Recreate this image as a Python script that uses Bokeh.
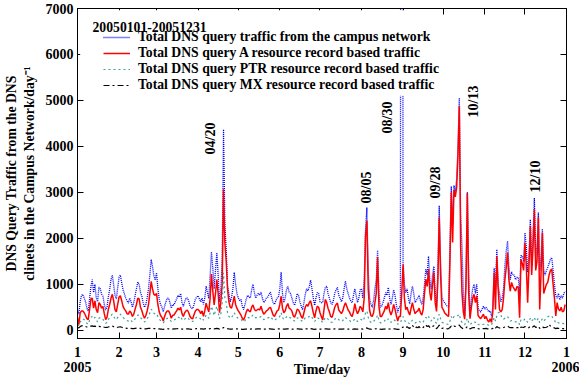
import numpy as np
from bokeh.plotting import figure
from bokeh.models import (Range1d, LinearAxis, FixedTicker, Legend, LegendItem,
                          Label, BoxAnnotation)
from bokeh.embed import file_html
from bokeh.resources import INLINE

# ---------------- data (daily values, 2005-01-01 .. 2005-12-31) ----------------
total_traffic = (
    [450,350,620,760,780,700,620,480,420,680,950,1100,820,1000,700,620,940,900,780,740,560,440,500,720,880,1100,1200,980,760,680,920] +
    [1150,1200,1030,880,790,700,640,590,700,620,500,600,760,900,1050,1000,820,740,600,500,560,700,900,1200,1540,1380,1180,1100] +
    [1250,900,670,560,500,400,520,620,700,700,600,480,560,550,620,680,760,720,800,600,520,620,700,700,640,520,480,470,560,680,720] +
    [750,680,620,700,560,700,960,820,690,1200,1700,1350,900,1300,1690,1200,620,900,1540,4370,2300,1760,960,800,620,720,900,1260,1000,800] +
    [700,650,670,520,450,560,680,760,720,700,880,1000,820,700,760,800,760,830,700,600,640,700,720,780,830,700,600,560,640,700,720] +
    [900,1260,800,600,700,880,960,820,800,700,600,540,650,800,760,620,520,440,600,780,900,860,950,1090,900,700,540,700,820,800] +
    [620,600,600,800,930,960,800,700,600,560,650,800,880,930,760,700,620,700,900,1070,900,800,700,640,600,760,900,760,600,700,880] +
    [900,700,1100,2200,2670,1300,700,560,500,640,900,1100,1740,800,500,520,600,700,820,760,930,700,560,700,880,760,560,390,500,520,40000] +
    [1480,1000,820,900,700,570,800,960,800,600,650,700,760,640,560,700,1000,1330,1200,1610,1100,900,1200,1390,800,530,1300,2710,1500,720] +
    [650,600,560,520,500,1800,3130,2300,3150,3000,3300,4000,5050,2500,1830,800,300,1200,3000,1200,300,700,900,1000,800,1000,480,420,400,460,520] +
    [460,500,450,400,420,310,500,1360,900,1760,960,800,620,700,900,1400,1720,1940,1400,1100,1270,1200,1200,1100,1150,1150,750,1620,1620,1500] +
    [2120,1800,1270,1600,2410,1400,2000,2880,1600,1800,2560,1300,1600,2200,1300,1200,1300,1370,1450,1550,1580,1300,1000,750,700,800,660,750,700,800,850]
)
a_traffic = (
    [280,120,380,420,420,380,320,250,230,450,680,700,480,640,450,380,600,560,480,520,360,230,280,450,560,700,780,640,450,400,560] +
    [720,750,640,520,460,420,360,350,420,380,300,350,460,560,700,680,500,430,330,260,320,420,560,800,1060,900,780,760] +
    [800,560,400,320,280,200,300,380,420,420,360,260,320,330,380,420,480,440,500,360,300,380,420,440,380,300,260,250,340,420,450] +
    [450,420,360,420,300,420,590,480,400,700,1220,850,550,800,1100,800,380,620,1000,3065,1900,1500,900,620,500,480,600,740,560,480] +
    [420,380,330,260,220,300,400,460,420,400,500,550,460,420,440,460,440,520,420,350,380,420,440,480,500,420,330,300,360,420,440] +
    [560,740,480,380,420,520,580,480,460,420,320,280,360,460,440,380,300,260,380,500,560,520,600,640,520,380,270,420,520,500] +
    [380,300,220,450,670,600,480,400,300,280,380,500,560,590,440,400,360,420,520,600,520,440,400,330,300,400,580,440,360,420,520] +
    [480,400,700,2050,2380,900,440,320,300,380,600,800,1590,520,300,300,360,420,520,460,600,420,330,420,560,460,320,200,300,300,800] +
    [1430,700,450,500,400,330,480,600,460,360,400,420,480,380,330,450,800,1110,950,1330,820,650,1000,1260,600,410,1100,2450,1200,500] +
    [450,380,350,320,300,1500,3000,1910,3050,2900,3100,3800,4880,1800,820,400,240,1000,2980,800,250,500,700,780,600,750,320,280,250,300,350] +
    [250,300,220,180,250,170,400,1250,450,1610,890,450,400,450,700,1100,1360,1690,1100,850,1040,950,900,850,950,930,270,1540,1450,1300] +
    [1900,1400,600,1400,2270,1200,1800,2630,1300,1500,2450,450,1250,2120,800,900,1000,1040,1200,1300,1330,1000,700,310,600,460,420,500,400,420,560]
)
ptr_traffic = (
    [120,100,180,220,250,230,200,150,130,220,280,300,250,280,220,180,260,280,250,240,190,150,170,230,280,320,350,300,250,230,280] +
    [320,350,300,280,250,230,210,200,230,210,180,200,250,290,330,320,270,250,210,180,200,250,300,380,460,420,370,350] +
    [360,300,240,210,190,160,200,230,260,260,230,190,210,220,240,260,290,270,300,240,210,240,270,280,250,210,190,190,230,260,280] +
    [290,270,240,270,220,270,330,290,260,380,520,430,320,420,520,400,250,350,600,1250,700,600,380,300,260,280,320,380,320,280] +
    [260,250,240,200,180,210,250,280,270,260,300,330,290,270,280,290,280,300,260,230,240,260,270,280,300,260,230,210,240,260,270] +
    [300,380,280,230,250,290,310,280,270,250,220,200,230,270,260,240,210,190,230,270,290,280,300,320,280,230,190,230,270,260] +
    [220,200,170,220,280,270,240,210,180,170,200,240,260,270,230,210,190,210,250,280,250,230,210,190,180,210,250,220,190,210,240] +
    [230,200,260,380,420,280,200,170,160,190,230,260,330,220,160,160,180,200,230,210,250,200,170,200,230,210,170,130,150,160,240] +
    [300,220,180,190,160,140,180,220,190,160,170,180,200,170,150,180,230,280,250,300,230,200,250,280,190,150,240,350,250,170] +
    [160,150,140,130,130,200,300,240,300,290,300,320,350,220,170,130,120,180,260,170,120,150,180,190,170,180,130,120,110,120,130] +
    [130,140,120,110,130,120,180,280,200,320,380,390,330,260,240,260,280,300,240,200,210,200,190,180,190,180,120,230,220,210] +
    [250,220,170,200,260,200,230,280,200,220,260,160,200,250,200,230,260,290,310,300,310,260,220,160,180,160,150,160,150,140,160]
)
mx_traffic = (
    [60,50,80,95,100,90,80,70,70,85,90,95,85,90,75,70,85,80,75,80,65,60,60,70,80,85,90,75,60,55,65] +
    [70,75,65,55,50,45,40,40,45,40,35,35,40,45,50,45,40,35,30,30,30,35,40,40,45,40,35,35] +
    [35,30,28,25,22,20,25,30,32,30,28,22,25,28,30,32,35,30,32,26,22,28,30,32,28,22,20,22,28,32,35] +
    [35,30,28,30,25,30,35,32,28,35,40,38,30,35,40,35,25,30,40,60,45,40,32,28,25,26,30,35,30,28] +
    [26,24,22,20,18,22,26,30,28,26,30,32,28,26,28,30,28,30,26,22,24,26,28,30,30,26,22,20,24,26,28] +
    [30,35,28,24,26,30,32,28,28,26,22,20,24,28,28,24,22,20,24,28,30,30,32,34,30,24,20,24,28,28] +
    [24,22,20,26,30,30,26,24,22,20,24,28,30,30,26,24,22,24,28,32,28,26,24,22,20,24,28,26,22,24,28] +
    [28,24,30,45,50,35,26,22,20,24,28,32,40,28,22,20,24,26,30,28,32,26,22,26,30,28,22,18,20,30,50] +
    [70,60,45,80,50,40,90,110,60,40,70,55,80,45,35,60,90,120,80,100,60,50,80,100,50,35,70,110,70,40] +
    [45,40,35,30,35,60,90,70,90,80,90,100,110,70,50,30,30,50,80,50,30,45,55,60,50,55,35,30,30,35,35] +
    [35,40,30,28,35,30,40,70,45,80,60,50,45,50,60,70,80,90,70,55,60,55,55,50,55,55,30,70,65,60] +
    [80,65,45,60,85,60,75,95,60,70,90,40,60,80,55,60,65,80,130,90,75,60,50,35,45,40,35,40,35,35,40]
)
days = list(range(len(total_traffic)))

month_ticks = [0, 31, 59, 90, 120, 151, 181, 212, 243, 273, 304, 334, 365]
month_labels = ["1", "2", "3", "4", "5", "6", "7", "8", "9", "10", "11", "12", "1"]
year_ticks = [0, 365]
year_labels = ["2005", "2006"]
y_ticks = [0, 1000, 2000, 3000, 4000, 5000, 6000, 7000]

series_names = [
    "Total DNS query traffic from the campus network",
    "Total DNS query A resource record based traffic",
    "Total DNS query PTR resource record based traffic",
    "Total DNS query MX resource record based traffic",
]
period_text = "20050101-20051231"
x_title = "Time/day"
y_title = "DNS Query Traffic from the DNS\nclinets in the Campus Network/day\u207b\u00b9"
event_labels = ["04/20", "08/05", "08/30", "09/28", "10/13", "12/10"]
# label anchor positions (layout only)
event_pos_x = [99.3, 215.7, 231.4, 267.2, 295.6, 341.9]
event_pos_y = [4172, 3105, 4629, 3214, 4977, 3345]

FONT = "Liberation Serif"

p = figure(width=579, height=380, output_backend="svg", toolbar_location=None,
           x_range=Range1d(0, 365), y_range=Range1d(-180, 7000),
           min_border_left=77, min_border_right=13, min_border_top=8,
           min_border_bottom=42)
p.background_fill_color = "white"
p.border_fill_color = "white"
p.outline_line_color = "black"
p.outline_line_width = 1
p.xgrid.visible = False
p.ygrid.visible = False

def style_axis(ax, show_labels=True, standoff=5):
    ax.axis_line_color = "black"
    ax.major_tick_line_color = "black"
    ax.major_tick_in = 6
    ax.major_tick_out = 0
    ax.minor_tick_line_color = None
    ax.major_label_text_font = FONT
    ax.major_label_text_font_style = "bold"
    ax.major_label_text_color = "black"
    ax.major_label_standoff = standoff
    ax.axis_label_text_font = FONT
    ax.axis_label_text_font_style = "bold"
    ax.axis_label_text_color = "black"
    if show_labels:
        ax.major_label_text_font_size = "14px"
    else:
        ax.major_label_text_font_size = "1px"
        ax.major_label_text_color = None
        ax.major_label_standoff = 0

xax = p.xaxis[0]
xax.ticker = FixedTicker(ticks=month_ticks)
xax.major_label_overrides = {t: l for t, l in zip(month_ticks, month_labels)}
style_axis(xax, True, 8)

yax = p.yaxis[0]
yax.ticker = FixedTicker(ticks=y_ticks)
style_axis(yax, True, 4)
yax.axis_label = y_title
yax.axis_label_text_font_size = "13.7px"
yax.axis_label_standoff = 6

# year row + x title
year_ax = LinearAxis(ticker=FixedTicker(ticks=year_ticks))
style_axis(year_ax, True, 2)
year_ax.major_label_overrides = {t: l for t, l in zip(year_ticks, year_labels)}
year_ax.axis_line_color = None
year_ax.major_tick_line_color = None
year_ax.axis_label = x_title
year_ax.axis_label_text_font_size = "14px"
year_ax.axis_label_standoff = -13
p.add_layout(year_ax, "below")

top_ax = LinearAxis(ticker=FixedTicker(ticks=month_ticks))
style_axis(top_ax, False)
p.add_layout(top_ax, "above")
right_ax = LinearAxis(ticker=FixedTicker(ticks=y_ticks))
style_axis(right_ax, False)
p.add_layout(right_ax, "right")

r_total = p.line(days, total_traffic, line_color="#0000ff", line_width=1.3, line_dash="1 1")
r_a = p.line(days, a_traffic, line_color="#ff0000", line_width=1.5)
r_ptr = p.line(days, ptr_traffic, line_color="#3f9f9f", line_width=1.2, line_dash="2 3")
r_mx = p.line(days, mx_traffic, line_color="black", line_width=1.2, line_dash="6 3 2 3")

# white backing of the key box
p.add_layout(BoxAnnotation(left=2, right=268, bottom=5100, top=6960,
                           fill_color="white", fill_alpha=1.0, line_color=None))

legend = Legend(items=[LegendItem(label=n, renderers=[r]) for n, r in
                       zip(series_names, [r_total, r_a, r_ptr, r_mx])],
                location=(26, 245), padding=0, spacing=0, margin=0,
                label_height=16, glyph_height=16, glyph_width=27,
                label_standoff=8, label_text_font=FONT,
                label_text_font_style="bold", label_text_font_size="13.7px",
                label_text_color="black",
                background_fill_alpha=0, border_line_color=None)
p.add_layout(legend)

p.add_layout(Label(x=11.2, y=6590, text=period_text, text_font=FONT,
                   text_font_style="bold", text_font_size="13.7px",
                   text_color="black",
                   text_align="left", text_baseline="middle"))

for t, x, y in zip(event_labels, event_pos_x, event_pos_y):
    p.add_layout(Label(x=x, y=y, text=t, angle=np.pi / 2, text_font=FONT,
                       text_font_style="bold", text_font_size="14px",
                       text_color="black",
                       text_align="center", text_baseline="middle"))

open("out.html", "w").write(file_html(p, INLINE))
